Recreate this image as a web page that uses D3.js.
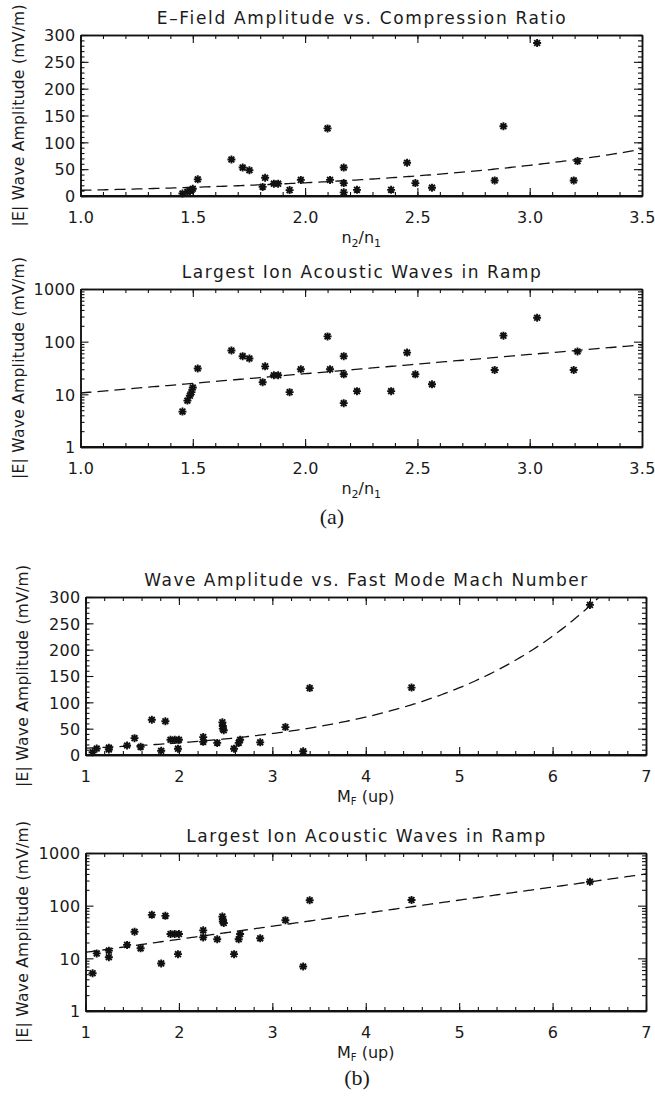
<!DOCTYPE html>
<html>
<head>
<meta charset="utf-8">
<script src="https://cdn.jsdelivr.net/npm/d3@7"></script>
<style>
body { margin: 0; background: #fff; }
svg text { font-family: "DejaVu Sans", sans-serif; fill: #1a1a1a; }
</style>
</head>
<body>
<svg id="fig" width="655" height="1099"></svg>
<script>
// compression ratio n2/n1 vs largest wave amplitude (mV/m) -> panels (a)
const ratioX   = [1.454, 1.476, 1.487, 1.494, 1.500, 1.522, 1.672, 1.722, 1.752, 1.811,
                  1.822, 1.861, 1.880, 1.931, 1.981, 2.100, 2.111, 2.172, 2.172, 2.172,
                  2.231, 2.383, 2.454, 2.491, 2.565, 2.844, 2.883, 3.033, 3.196, 3.213]
const ratioAmp = [4.7, 7.6, 9.4, 11, 13.5, 31, 68, 53, 48, 17,
                  34, 23, 23, 11, 30, 126, 30, 53, 24, 6.8,
                  11.5, 11.5, 62, 24, 15.5, 29, 130, 285, 29, 65]

// fast mode mach number (upstream) vs amplitude -> panels (b)
const machX   = [1.076, 1.120, 1.250, 1.250, 1.445, 1.525, 1.590, 1.710, 1.810, 1.855,
                 1.910, 1.955, 2.000, 1.990, 2.260, 2.260, 2.410, 2.465, 2.470, 2.470,
                 2.480, 2.590, 2.640, 2.655, 2.870, 3.140, 3.330, 3.400, 4.490, 6.400]
const machAmp = [5.2, 12.4, 14, 10.5, 18, 32, 15.5, 67, 8, 64,
                 29, 29, 29, 12, 34, 25, 23, 62, 55, 50,
                 47, 12, 23, 29, 24, 53, 7, 127, 128, 285]

// exponential fits, amp = a * exp(b * x)
const ratioFit = [4.57, 0.842]
const machFit  = [7.34, 0.571]

const ratioTicks = [1.0, 1.5, 2.0, 2.5, 3.0, 3.5]
const machTicks  = [1, 2, 3, 4, 5, 6, 7]
const linTicks   = [0, 50, 100, 150, 200, 250, 300]
const logTicks   = [1, 10, 100, 1000]

const titles = ["E\u2013Field Amplitude vs. Compression Ratio",
                "Largest Ion Acoustic Waves in Ramp",
                "Wave Amplitude vs. Fast Mode Mach Number",
                "Largest Ion Acoustic Waves in Ramp"]
const titleLen = [409, 359, 443, 359]

const svg = d3.select('#fig')

const star = "M-4,0H4M0,-4V4M-2.9,-2.9L2.9,2.9M-2.9,2.9L2.9,-2.9"

function drawPanel(p, idx){
    const g = svg.append('g')
    const x = d3.scaleLinear().domain(p.xDomain).range([p.l, p.r])
    const y = p.log
        ? d3.scaleLog().domain([1, 1000]).range([p.b, p.t])
        : d3.scaleLinear().domain([0, 300]).range([p.b, p.t])

    const xMinor = d3.range(p.xDomain[0], p.xDomain[1] + 1e-9, p.xMinorStep)
    let yMinor
    if (p.log) {
        yMinor = []
        logTicks.slice(0, 3).forEach(d => { for (let k = 2; k < 10; k++) yMinor.push(d*k) })
    } else {
        yMinor = d3.range(0, 301, 10)
    }

    // minor ticks, all four sides, pointing in
    g.append('g').attr('transform', `translate(0,${p.b})`)
        .call(d3.axisBottom(x).tickValues(xMinor).tickSize(-4).tickSizeOuter(0).tickFormat(''))
    g.append('g').attr('transform', `translate(0,${p.t})`)
        .call(d3.axisTop(x).tickValues(xMinor).tickSize(-4).tickSizeOuter(0).tickFormat(''))
    g.append('g').attr('transform', `translate(${p.l},0)`)
        .call(d3.axisLeft(y).tickValues(yMinor).tickSize(-4).tickSizeOuter(0).tickFormat(''))
    g.append('g').attr('transform', `translate(${p.r},0)`)
        .call(d3.axisRight(y).tickValues(yMinor).tickSize(-4).tickSizeOuter(0).tickFormat(''))

    // major ticks + labels
    g.append('g').attr('class', 'xlab').attr('transform', `translate(0,${p.b})`)
        .call(d3.axisBottom(x).tickValues(p.xTicks).tickSize(-8).tickSizeOuter(0)
            .tickPadding(16).tickFormat(p.xFmt))
    g.append('g').attr('transform', `translate(0,${p.t})`)
        .call(d3.axisTop(x).tickValues(p.xTicks).tickSize(-8).tickSizeOuter(0).tickFormat(''))
    g.append('g').attr('class', 'ylab').attr('transform', `translate(${p.l},0)`)
        .call(d3.axisLeft(y).tickValues(p.log ? logTicks : linTicks).tickSize(-8).tickSizeOuter(0)
            .tickPadding(5).tickFormat(d3.format('d')))
    g.append('g').attr('transform', `translate(${p.r},0)`)
        .call(d3.axisRight(y).tickValues(p.log ? logTicks : linTicks).tickSize(-8).tickSizeOuter(0).tickFormat(''))

    g.selectAll('.tick line').attr('stroke', '#111').attr('stroke-width', 1.1)
    g.selectAll('.domain').attr('stroke', '#111').attr('stroke-width', 1.5)
    g.selectAll('.xlab text, .ylab text').style('font-size', '16px').style('letter-spacing', '0.3px')
    g.selectAll('.ylab text').attr('dy', '0.36em')

    // heavier bottom frame like the original
    g.append('line').attr('x1', p.l).attr('x2', p.r).attr('y1', p.b).attr('y2', p.b)
        .attr('stroke', '#111').attr('stroke-width', 2.2)

    // fit curve, clipped to the box
    const cid = 'clip' + idx
    svg.append('clipPath').attr('id', cid).append('rect')
        .attr('x', p.l).attr('y', p.t).attr('width', p.r - p.l).attr('height', p.b - p.t)
    const xs = d3.range(p.xDomain[0], p.xDomain[1] + 1e-9, (p.xDomain[1] - p.xDomain[0]) / 200)
    const line = d3.line().x(d => x(d)).y(d => y(p.fit[0]*Math.exp(p.fit[1]*d)))
    g.append('path').datum(xs)
        .attr('clip-path', `url(#${cid})`)
        .attr('d', line)
        .attr('fill', 'none')
        .attr('stroke', '#111')
        .attr('stroke-width', 1.3)
        .attr('stroke-dasharray', '11,6')

    // data points
    g.selectAll('.pt')
        .data(p.xs.map((d, i) => [d, p.ys[i]]))
        .join('path')
        .attr('class', 'pt')
        .attr('transform', d => `translate(${x(d[0])},${y(d[1])})`)
        .attr('d', star)
        .attr('fill', 'none')
        .attr('stroke', '#111')
        .attr('stroke-width', 1.9)

    // title
    g.append('text')
        .attr('x', (p.l + p.r)/2).attr('y', p.t - 11)
        .attr('text-anchor', 'middle')
        .attr('textLength', titleLen[idx])
        .attr('lengthAdjust', 'spacing')
        .style('font-size', '17px')
        .text(titles[idx])

    // y axis title
    g.append('text')
        .attr('transform', `translate(${p.yTitleX},${(p.t + p.b)/2}) rotate(-90)`)
        .attr('text-anchor', 'middle')
        .attr('textLength', 222)
        .attr('lengthAdjust', 'spacing')
        .style('font-size', '15.5px')
        .text('|E| Wave Amplitude (mV/m)')

    // x axis title with subscripts
    const xt = g.append('text')
        .attr('x', (p.l + p.r)/2).attr('y', p.b + 47)
        .attr('text-anchor', 'middle')
        .style('font-size', '16px')
    if (p.mach) {
        xt.append('tspan').text('M')
        xt.append('tspan').attr('dy', 3).style('font-size', '10px').text('F')
        xt.append('tspan').attr('dy', -3).text(' (up)')
    } else {
        xt.append('tspan').text('n')
        xt.append('tspan').attr('dy', 4).style('font-size', '11px').text('2')
        xt.append('tspan').attr('dy', -4).text('/n')
        xt.append('tspan').attr('dy', 4).style('font-size', '11px').text('1')
    }
}

const fmt1 = d3.format('.1f')
const fmt0 = d3.format('d')

drawPanel({l: 80.5, r: 642, t: 35, b: 196, xDomain: [1, 3.5], xTicks: ratioTicks, xMinorStep: 0.1,
    xFmt: fmt1, log: false, xs: ratioX, ys: ratioAmp, fit: ratioFit, yTitleX: 24}, 0)
drawPanel({l: 80.5, r: 642, t: 289, b: 447, xDomain: [1, 3.5], xTicks: ratioTicks, xMinorStep: 0.1,
    xFmt: fmt1, log: true, xs: ratioX, ys: ratioAmp, fit: ratioFit, yTitleX: 24}, 1)
drawPanel({l: 85.5, r: 646, t: 597, b: 755, xDomain: [1, 7], xTicks: machTicks, xMinorStep: 0.2,
    xFmt: fmt0, log: false, xs: machX, ys: machAmp, fit: machFit, yTitleX: 28, mach: true}, 2)
drawPanel({l: 85.5, r: 646, t: 853, b: 1011, xDomain: [1, 7], xTicks: machTicks, xMinorStep: 0.2,
    xFmt: fmt0, log: true, xs: machX, ys: machAmp, fit: machFit, yTitleX: 28, mach: true}, 3)

// figure part labels
svg.append('text').attr('x', 332).attr('y', 524).attr('text-anchor', 'middle')
    .style('font-family', '"Liberation Serif", serif').style('font-size', '22px').text('(a)')
svg.append('text').attr('x', 357).attr('y', 1085).attr('text-anchor', 'middle')
    .style('font-family', '"Liberation Serif", serif').style('font-size', '22px').text('(b)')
</script>
</body>
</html>
